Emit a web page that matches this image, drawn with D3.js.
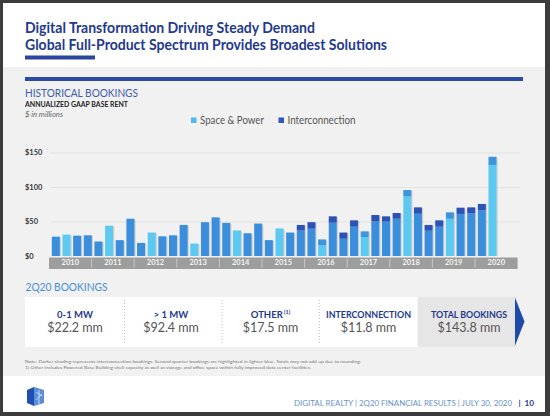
<!DOCTYPE html>
<html><head><meta charset="utf-8">
<script src="https://cdn.jsdelivr.net/npm/d3@7"></script>
<style>body{margin:0;background:#3c3c3c}svg{display:block}text{font-family:Lato,"Open Sans",sans-serif}</style>
</head><body><svg id="c" width="550" height="416"></svg>
<script>
const years = ["2010","2011","2012","2013","2014","2015","2016","2017","2018","2019","2020"];
const quarterNames = ["Q1","Q2","Q3","Q4"];
const spacePower = [28,31,29.5,30, 21,44,23,54, 19,34,28.5,30, 45,18,49,56, 48,37,33,47,
  23,40,34,37, 39.6,15.5,48.3,25, 42.5,27.5,50,49.8, 54,86.5,61.3,36.7, 42.5,54,61,61.8, 66.2,132];
const interconnection = [0,0,0,0, 0,0,0,0, 0,0,0,0, 0,0,0,0, 0,0,0,0,
  0,0,0,8, 9.4,8.5,9.2,9, 9.2,8.2,9.4,7.7, 8.3,9.1,9.2,8.3, 9.2,9.3,9,8.7, 9.2,11.8];
const yTicks = [0,50,100,150];
const legendLabels = ["Space & Power","Interconnection"];
const bookingLabels = ["0-1 MW","> 1 MW","OTHER","INTERCONNECTION","TOTAL BOOKINGS"];
const bookingValues = [22.2,92.4,17.5,11.8,143.8];

const svg = d3.select("#c");
// slide
svg.append("rect").attr("x",3).attr("y",3).attr("width",542).attr("height",409).attr("fill","#fff");
svg.append("rect").attr("x",3).attr("y",67).attr("width",542).attr("height",309).attr("fill","#f1f1f1");

// titles
const navy="#23398c";
svg.append("text").attr("x",25).attr("y",32.5).attr("font-size",15.5).attr("font-weight",700).attr("fill",navy)
  .attr("textLength",290).attr("lengthAdjust","spacingAndGlyphs").text("Digital Transformation Driving Steady Demand");
svg.append("text").attr("x",25).attr("y",50).attr("font-size",15.5).attr("font-weight",700).attr("fill",navy)
  .attr("textLength",362).attr("lengthAdjust","spacingAndGlyphs").text("Global Full-Product Spectrum Provides Broadest Solutions");
svg.append("rect").attr("x",25).attr("y",55.5).attr("width",70).attr("height",4).attr("fill","#2a45a0");
svg.append("rect").attr("x",25).attr("y",77).attr("width",498).attr("height",4).attr("fill","#2a4aa6");

svg.append("text").attr("x",25).attr("y",97).attr("font-size",11).attr("fill","#3f5cab")
  .attr("textLength",113).attr("lengthAdjust","spacingAndGlyphs").text("HISTORICAL BOOKINGS");
svg.append("text").attr("x",25).attr("y",107).attr("font-size",6.5).attr("font-weight",700).attr("fill","#222")
  .attr("textLength",103).attr("lengthAdjust","spacingAndGlyphs").text("ANNUALIZED GAAP BASE RENT");
svg.append("text").attr("x",25).attr("y",116.5).attr("font-size",6.8).attr("font-style","italic").attr("fill","#666")
  .attr("textLength",38).attr("lengthAdjust","spacingAndGlyphs").text("$ in millions");

// legend
const legColors=["#4fb9ec","#2f56b8"];
const legX=[191,278.5], legTL=[64,68];
legendLabels.forEach((l,i)=>{
  svg.append("rect").attr("x",legX[i]).attr("y",117.5).attr("width",5.5).attr("height",5.5).attr("fill",legColors[i]);
  svg.append("text").attr("x",legX[i]+9).attr("y",124.3).attr("font-size",11).attr("fill","#555")
    .attr("textLength",legTL[i]).attr("lengthAdjust","spacingAndGlyphs").text(l);
});

// scales
const quarterKeys = years.flatMap(yr=>quarterNames.map(q=>yr+q));
const data = spacePower.map((v,i)=>({key:quarterKeys[i], sp:v, ic:interconnection[i], q2:quarterKeys[i].endsWith("Q2")}));
const x = d3.scaleBand().domain(quarterKeys).range([50.5,519.1]).paddingInner(0.25).paddingOuter(0.125);
const yearX = d3.scaleBand().domain(years).range([49,517.6]);
const y = d3.scaleLinear().domain([0,150]).range([256,152.5]);

// gridlines
const grid = svg.append("g").attr("transform","translate(520,0)")
  .call(d3.axisLeft(y).tickValues(yTicks.slice(1)).tickSize(470).tickFormat(""));
grid.select(".domain").remove();
grid.selectAll("line").attr("stroke","#e2e2e2");
// y labels
const ya = svg.append("g").attr("transform","translate(25,0)")
  .call(d3.axisRight(y).tickValues(yTicks).tickSize(0).tickPadding(0).tickFormat(d=>"$"+d));
ya.select(".domain").remove();
ya.selectAll("text").attr("font-size",7.5).attr("font-weight",700).attr("fill","#3a3a3a").attr("font-family","Lato,sans-serif");

// bars
const bars = svg.append("g");
bars.selectAll(".sh").data(data).join("rect")
  .attr("x",d=>x(d.key)+1.3).attr("y",d=>y(d.sp+d.ic)+0.8)
  .attr("width",x.bandwidth()).attr("height",d=>y(0)-y(d.sp+d.ic)-0.8).attr("fill","rgba(0,0,0,0.13)");
bars.selectAll(".sp").data(data).join("rect")
  .attr("x",d=>x(d.key)).attr("y",d=>y(d.sp))
  .attr("width",x.bandwidth()).attr("height",d=>y(0)-y(d.sp))
  .attr("fill",d=>d.q2?"#5cc9f1":"#3b8edb");
bars.selectAll(".ic").data(data.filter(d=>d.ic>0)).join("rect")
  .attr("x",d=>x(d.key)).attr("y",d=>y(d.sp+d.ic))
  .attr("width",x.bandwidth()).attr("height",d=>y(d.sp)-y(d.sp+d.ic))
  .attr("fill",d=>d.q2?"#3f95dc":"#2d52b5");

// year band
svg.append("rect").attr("x",yearX.range()[0]).attr("y",257.5).attr("width",yearX.range()[1]-yearX.range()[0]).attr("height",11.5).attr("fill","#9d9d9d");
svg.selectAll(".sep").data(years.slice(1)).join("line")
  .attr("x1",d=>yearX(d)).attr("x2",d=>yearX(d)).attr("y1",258.5).attr("y2",267.5).attr("stroke","#c8c8c8");
const xa = svg.append("g").attr("transform","translate(0,259)").call(d3.axisBottom(yearX).tickSize(0).tickPadding(0));
xa.select(".domain").remove();
xa.selectAll("text").attr("font-size",7.5).attr("font-weight",700).attr("fill","#f4f4f4").attr("dy","0.75em").attr("font-family","Lato,sans-serif");

// 2Q20 bookings
svg.append("text").attr("x",25.5).attr("y",291).attr("font-size",11).attr("fill","#4a8fd2")
  .attr("textLength",82).attr("lengthAdjust","spacingAndGlyphs").text("2Q20 BOOKINGS");
const boxEdges=[25,124.5,222,319.3,417.7,515];
svg.append("rect").attr("x",25).attr("y",297).attr("width",417.7-25).attr("height",50).attr("fill","#fff");
svg.append("rect").attr("x",417.7).attr("y",297).attr("width",515-417.7).attr("height",50).attr("fill","#e6e6e6");
svg.append("polygon").attr("points","515,297.5 524.5,321.5 515,345.7").attr("fill","#1f4aa8");
svg.selectAll(".bsep").data(boxEdges.slice(1,4)).join("line")
  .attr("x1",d=>d).attr("x2",d=>d).attr("y1",300).attr("y2",344).attr("stroke","#bdbdbd").attr("stroke-dasharray","1,2");
const labelTL=[null,null,null,85,76];
const textCenters=[75,171,270.5,368.5,469];
bookingLabels.forEach((l,i)=>{
  const t=svg.append("text").attr("x",textCenters[i]).attr("y",317.5).attr("text-anchor","middle")
    .attr("font-size",9.5).attr("font-weight",700).attr("fill",navy);
  if(labelTL[i]) t.attr("textLength",labelTL[i]).attr("lengthAdjust","spacingAndGlyphs");
  t.text(l);
  if(l==="OTHER"){ t.append("tspan").attr("font-size",5.5).attr("dy",-3.5).text(" (1)"); }
  svg.append("text").attr("x",textCenters[i]).attr("y",331.5).attr("text-anchor","middle")
    .attr("font-size",12.5).attr("fill","#555").text("$"+bookingValues[i]+" mm");
});

// notes
svg.append("text").attr("x",25).attr("y",363).attr("font-size",4.4).attr("fill","#777")
  .attr("textLength",336).attr("lengthAdjust","spacingAndGlyphs")
  .text("Note: Darker shading represents interconnection bookings. Second quarter bookings are highlighted in lighter blue. Totals may not add up due to rounding.");
svg.append("text").attr("x",25).attr("y",368.5).attr("font-size",4.4).attr("fill","#777")
  .attr("textLength",286).attr("lengthAdjust","spacingAndGlyphs")
  .text("1) Other includes Powered Base Building shell capacity as well as storage and office space within fully improved data center facilities.");

// footer
const logo=svg.append("g");
logo.append("polygon").attr("points","27,390 34,387 34,406 27,403").attr("fill","#1f4fb0");
logo.append("polygon").attr("points","34,387 44,390 44,403 34,406").attr("fill","#5a8fd8");
logo.append("path").attr("d","M36,392 L42,396 M36,400 L42,394 M39,390 L39,404").attr("stroke","#d8e6f8").attr("stroke-width",0.8).attr("fill","none");
const ff="Liberation Sans, Arial, sans-serif";
svg.append("text").attr("x",294).attr("y",405.5).attr("font-size",8.2).attr("font-family",ff).attr("fill","#6592c8")
  .attr("textLength",218).attr("lengthAdjust","spacingAndGlyphs").text("DIGITAL REALTY | 2Q20 FINANCIAL RESULTS | JULY 30, 2020");
svg.append("text").attr("x",518.5).attr("y",405.5).attr("font-size",8.2).attr("font-family",ff).attr("font-weight",700).attr("fill","#1f3a8a").text("|");
svg.append("text").attr("x",524.5).attr("y",405.5).attr("font-size",8.2).attr("font-family",ff).attr("font-weight",700).attr("fill","#1f3a8a").text("10");
</script></body></html>
